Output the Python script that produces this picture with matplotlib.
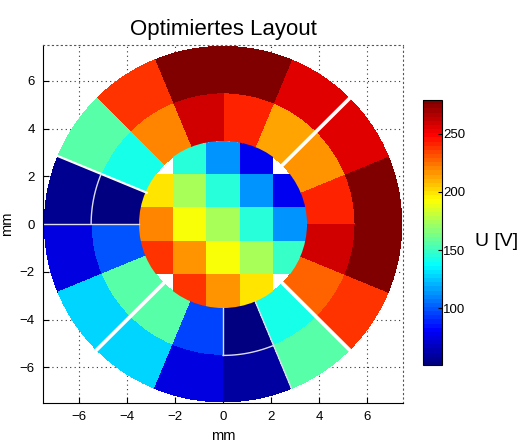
import numpy as np
import matplotlib
matplotlib.use('Agg')
import matplotlib.pyplot as plt
from matplotlib.patches import Wedge, Circle
from matplotlib.colors import Normalize, LinearSegmentedColormap

plt.rcParams['font.family'] = ['Liberation Sans', 'DejaVu Sans']

# Spannungen im Zentrum (5x5, oben -> unten, links -> rechts), NaN = leer
center_grid = [
    [np.nan, 145, 115, 79, np.nan],
    [199, 174, 145, 115, 79],
    [219, 193, 174, 145, 113],
    [237, 215, 193, 174, 150],
    [np.nan, 237, 216, 199, np.nan],
]
# Ringsegmente je 22.5 Grad, beginnend bei 0 Grad, gegen den Uhrzeigersinn
inner_ring = [241, 215, 213, 243, 258, 221, 143, 53,
              99, 157, 157, 97, 53, 143, 226, 258]
outer_ring = [276, 255, 255, 276, 276, 239, 157, 58,
              75, 129, 129, 74, 60, 157, 239, 276]
ticks = [-6, -4, -2, 0, 2, 4, 6]
cbar_ticks = [100, 150, 200, 250]

r_c, r_mid, r_out = 3.5, 5.5, 7.45
vmin, vmax = 51, 279

# jet wie in MATLAB (64 Stufen)
cmap = LinearSegmentedColormap.from_list('mjet', [
    (0.0, (0, 0, 0.5)), (0.125, (0, 0, 1)), (0.375, (0, 1, 1)),
    (0.625, (1, 1, 0)), (0.875, (1, 0, 0)), (1.0, (0.5, 0, 0))], N=64)
norm = Normalize(vmin, vmax)

fig = plt.figure(figsize=(5.2, 4.43), dpi=100)
ax = fig.add_axes([0.083, 0.090, 0.692, 0.808])

step = 360 / len(inner_ring)
for i, (vi, vo) in enumerate(zip(inner_ring, outer_ring)):
    a0, a1 = i * step, (i + 1) * step
    ax.add_patch(Wedge((0, 0), r_mid, a0, a1, width=r_mid - r_c,
                       facecolor=cmap(norm(vi)), edgecolor='none', antialiased=False))
    ax.add_patch(Wedge((0, 0), r_out, a0, a1, width=r_out - r_mid,
                       facecolor=cmap(norm(vo)), edgecolor='none', antialiased=False))

edges = np.linspace(-r_c, r_c, 6)
grid = np.ma.masked_invalid(np.array(center_grid)[::-1])
mesh = ax.pcolormesh(edges, edges, grid, cmap=cmap, norm=norm, antialiased=False)
mesh.set_clip_path(Circle((0, 0), r_c, transform=ax.transData))

# breite Trennfugen
for ang in [45, 225, 315]:
    t = np.deg2rad(ang)
    ax.plot([3.4 * np.cos(t), 7.6 * np.cos(t)], [3.4 * np.sin(t), 7.6 * np.sin(t)],
            color='white', lw=2.6, solid_capstyle='butt')
t = np.deg2rad(157.5)
ax.plot([3.4 * np.cos(t), 7.6 * np.cos(t)], [3.4 * np.sin(t), 7.6 * np.sin(t)],
        color='white', lw=1.6, solid_capstyle='butt')

# duenne Umrandungen der dunkelblauen Gruppen
lc = '#dcdcec'
for ang, r0, r1 in [(180, r_c, r_out), (270, r_c, r_mid), (292.5, r_c, r_out)]:
    t = np.deg2rad(ang)
    ax.plot([r0 * np.cos(t), r1 * np.cos(t)], [r0 * np.sin(t), r1 * np.sin(t)],
            color=lc, lw=1.0)
for a0, a1 in [(157.5, 180), (270, 292.5)]:
    tt = np.deg2rad(np.linspace(a0, a1, 30))
    ax.plot(r_mid * np.cos(tt), r_mid * np.sin(tt), color=lc, lw=1.0)

ax.set_xlim(-7.5, 7.5)
ax.set_ylim(-7.5, 7.5)
ax.set_xticks(ticks)
ax.set_yticks(ticks)
ax.set_axisbelow(True)
ax.grid(True, linestyle=(0, (1, 3)), color='#333333', lw=0.8)
ax.tick_params(direction='in', length=4, labelsize=9.5, pad=6)
for s in ['top', 'right']:
    ax.spines[s].set_linestyle((0, (1, 3)))
    ax.spines[s].set_color('#555555')
    ax.spines[s].set_linewidth(0.8)
ax.set_title('Optimiertes Layout', fontsize=16, pad=7)
ax.set_xlabel('mm', fontsize=10.5, labelpad=4)
ax.set_ylabel('mm', fontsize=10.5, labelpad=4)

cax = fig.add_axes([0.813, 0.176, 0.0365, 0.598])
sm = plt.cm.ScalarMappable(norm=norm, cmap=cmap)
cb = fig.colorbar(sm, cax=cax, ticks=cbar_ticks)
cb.ax.tick_params(direction='in', length=3, labelsize=9.5, pad=1)
cb.outline.set_linewidth(0.8)
fig.text(0.913, 0.455, 'U [V]', fontsize=14, ha='left', va='center')

fig.savefig('out.png', dpi=100)
